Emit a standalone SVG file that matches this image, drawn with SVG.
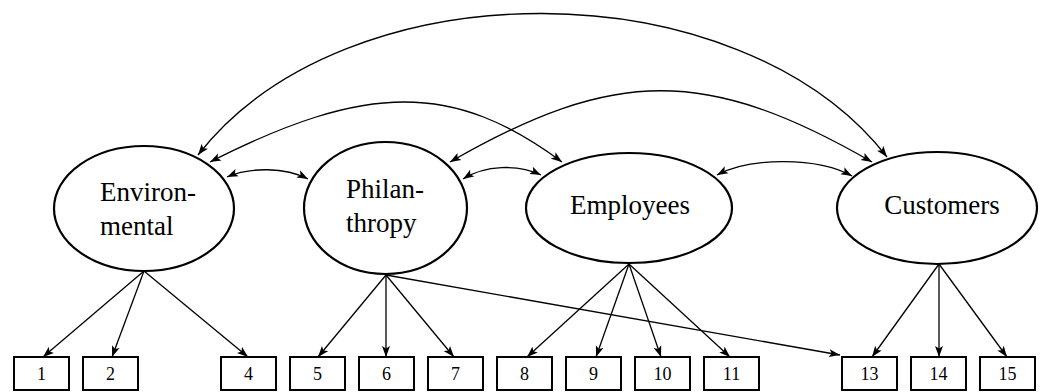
<svg xmlns="http://www.w3.org/2000/svg" width="1049" height="392" viewBox="0 0 1049 392">
<style>
.ell{fill:#fff;stroke:#000;stroke-width:2.2}
.box{fill:#fff;stroke:#000;stroke-width:2}
.lbl{font-family:"Liberation Serif","Times New Roman",serif;font-size:27px;fill:#000}
.num{font-family:"Liberation Serif","Times New Roman",serif;font-size:18px;fill:#000;text-anchor:middle}
.c{fill:none;stroke:#000;stroke-width:1.3}
</style>
<defs>
<marker id="ah" markerUnits="userSpaceOnUse" markerWidth="12" markerHeight="9" refX="11" refY="4" orient="auto-start-reverse" viewBox="0 0 12 8">
<path d="M0,0 L11,4 L0,8 L2.5,4 z" fill="#000"/>
</marker>
</defs>
<g id="connectors">
<path class="c" d="M198,155 C346,-35 739,-33 887,157" marker-start="url(#ah)" marker-end="url(#ah)"/>
<path class="c" d="M210,162 C367,82 454,82 562,162" marker-start="url(#ah)" marker-end="url(#ah)"/>
<path class="c" d="M450,162 C615,67 707,67 872,162" marker-start="url(#ah)" marker-end="url(#ah)"/>
<path class="c" d="M227,177 C250,167 285,167 308,179" marker-start="url(#ah)" marker-end="url(#ah)"/>
<path class="c" d="M463,179 C485,165 518,164 541,175" marker-start="url(#ah)" marker-end="url(#ah)"/>
<path class="c" d="M717,175 C750,157 818,157 852,176" marker-start="url(#ah)" marker-end="url(#ah)"/>
<line class="c" x1="144" y1="271" x2="43" y2="357" marker-end="url(#ah)"/>
<line class="c" x1="144" y1="271" x2="112" y2="357" marker-end="url(#ah)"/>
<line class="c" x1="144" y1="271" x2="248" y2="357" marker-end="url(#ah)"/>
<line class="c" x1="386" y1="275" x2="318" y2="357" marker-end="url(#ah)"/>
<line class="c" x1="386" y1="275" x2="386" y2="357" marker-end="url(#ah)"/>
<line class="c" x1="386" y1="275" x2="454" y2="357" marker-end="url(#ah)"/>
<line class="c" x1="386" y1="275" x2="840" y2="355" marker-end="url(#ah)"/>
<line class="c" x1="629" y1="264" x2="527" y2="357" marker-end="url(#ah)"/>
<line class="c" x1="629" y1="264" x2="596" y2="357" marker-end="url(#ah)"/>
<line class="c" x1="629" y1="264" x2="661" y2="357" marker-end="url(#ah)"/>
<line class="c" x1="629" y1="264" x2="730" y2="357" marker-end="url(#ah)"/>
<line class="c" x1="939" y1="264" x2="872" y2="357" marker-end="url(#ah)"/>
<line class="c" x1="939" y1="264" x2="939" y2="357" marker-end="url(#ah)"/>
<line class="c" x1="939" y1="264" x2="1007" y2="357" marker-end="url(#ah)"/>
</g>
<g id="environmental"><ellipse class="ell" cx="144" cy="208.5" rx="90" ry="62.5"/><text class="lbl" x="100" y="201">Environ-</text><text class="lbl" x="100" y="235">mental</text></g>
<g id="philanthropy"><ellipse class="ell" cx="385.5" cy="208" rx="81.5" ry="66"/><text class="lbl" x="346" y="198">Philan-</text><text class="lbl" x="346" y="232">thropy</text></g>
<g id="employees"><ellipse class="ell" cx="629" cy="208" rx="103" ry="55"/><text class="lbl" x="630" y="214" text-anchor="middle">Employees</text></g>
<g id="customers"><ellipse class="ell" cx="937" cy="208" rx="100" ry="56"/><text class="lbl" x="942" y="214" text-anchor="middle">Customers</text></g>
<g id="i1"><rect class="box" x="14" y="357" width="55" height="33"/><text class="num" x="41.5" y="380">1</text></g>
<g id="i2"><rect class="box" x="83" y="357" width="55" height="33"/><text class="num" x="110.5" y="380">2</text></g>
<g id="i4"><rect class="box" x="221" y="357" width="55" height="33"/><text class="num" x="248.5" y="380">4</text></g>
<g id="i5"><rect class="box" x="290" y="357" width="55" height="33"/><text class="num" x="317.5" y="380">5</text></g>
<g id="i6"><rect class="box" x="359" y="357" width="55" height="33"/><text class="num" x="386.5" y="380">6</text></g>
<g id="i7"><rect class="box" x="428" y="357" width="55" height="33"/><text class="num" x="455.5" y="380">7</text></g>
<g id="i8"><rect class="box" x="497" y="357" width="55" height="33"/><text class="num" x="524.5" y="380">8</text></g>
<g id="i9"><rect class="box" x="566" y="357" width="55" height="33"/><text class="num" x="593.5" y="380">9</text></g>
<g id="i10"><rect class="box" x="635" y="357" width="55" height="33"/><text class="num" x="662.5" y="380">10</text></g>
<g id="i11"><rect class="box" x="704" y="357" width="55" height="33"/><text class="num" x="731.5" y="380">11</text></g>
<g id="i13"><rect class="box" x="842" y="357" width="55" height="33"/><text class="num" x="869.5" y="380">13</text></g>
<g id="i14"><rect class="box" x="911" y="357" width="55" height="33"/><text class="num" x="938.5" y="380">14</text></g>
<g id="i15"><rect class="box" x="980" y="357" width="55" height="33"/><text class="num" x="1007.5" y="380">15</text></g>
</svg>
